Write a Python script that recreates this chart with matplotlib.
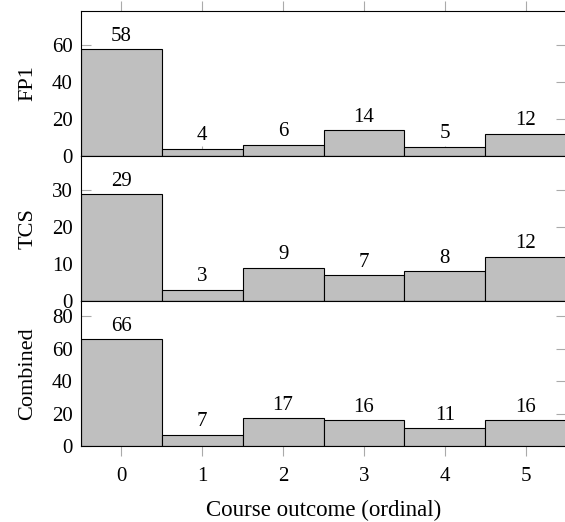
import numpy as np
import matplotlib.pyplot as plt

outcomes = [0, 1, 2, 3, 4, 5]
fp1 = [58, 4, 6, 14, 5, 12]
tcs = [29, 3, 9, 7, 8, 12]
combined = [66, 7, 17, 16, 11, 16]

panels = [("FP1", fp1, [0, 20, 40, 60]),
          ("TCS", tcs, [0, 10, 20, 30]),
          ("Combined", combined, [0, 20, 40, 60, 80])]

plt.rcParams['font.family'] = ['Liberation Serif', 'DejaVu Serif']
plt.rcParams['font.size'] = 15

fig = plt.figure(figsize=(5.65, 5.22), dpi=100)
W, H = 565, 522
left, right = 81 / W, 566 / W
tops = [11, 156, 301]
ph = 145

axes = []
for i, (name, vals, yt) in enumerate(panels):
    top = tops[i]
    ax = fig.add_axes([left, 1 - (top + ph) / H, right - left, ph / H])
    axes.append(ax)
    ax.bar(outcomes, vals, width=1.0, color='#bfbfbf', edgecolor='black',
           linewidth=0.8, zorder=2)
    for x, v in zip(outcomes, vals):
        ax.annotate(str(v), (x, v), xytext=(0, 2.5), textcoords='offset points',
                    ha='center', va='bottom', fontsize=15)
    ax.set_xlim(-0.5, 5.5)
    ax.set_ylim(0, max(vals) * 1.355)
    ax.set_yticks(yt)
    ax.set_xticks(outcomes)
    ax.set_ylabel(name, fontsize=16)
    ax.tick_params(axis='y', direction='in', left=True, right=True,
                   length=7, width=0.8, color='#aaaaaa', pad=6)
    ax.tick_params(axis='x', direction='inout', bottom=True,
                   length=14, width=0.8, color='#aaaaaa')
    if i == 0:
        ax.tick_params(axis='x', top=True)
        for t in ax.xaxis.get_major_ticks():
            t.tick2line.set_markersize(7)
            t.tick2line.set_marker(2)
    for s in ax.spines.values():
        s.set_linewidth(0.8)
    if i < 2:
        ax.tick_params(axis='x', labelbottom=False)
    ax.yaxis.set_label_coords(-0.09, 0.5)

axes[2].tick_params(axis='x', pad=8)
axes[2].set_xlabel("Course outcome (ordinal)", fontsize=16.5)
axes[2].xaxis.set_label_coords(0.5, -0.37)

fig.savefig("out.png", dpi=100)
